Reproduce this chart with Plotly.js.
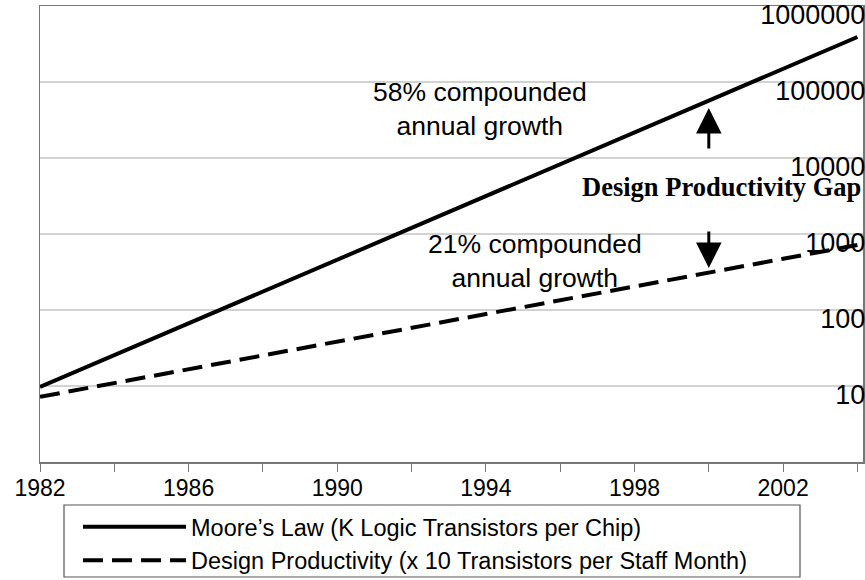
<!DOCTYPE html>
<html><head><meta charset="utf-8">
<script src="https://cdn.plot.ly/plotly-3.0.1.min.js"></script>
<style>html,body{margin:0;padding:0;background:#fff}#chart{width:865px;height:580px}</style>
</head><body><div id="chart"></div>
<script>
const years = [1982, 1986, 1990, 1994, 1998, 2002, 2004];
const mooresLaw = [9.7, 66.6, 459, 3150, 21700, 149000, 391000];
const designProductivity = [7.2, 16.5, 38.3, 88.3, 204, 472, 717];
const seriesNames = ["Moore’s Law (K Logic Transistors per Chip)", "Design Productivity (x 10 Transistors per Staff Month)"];
const yTickValues = [10, 100, 1000, 10000, 100000, 1000000];
const yTickLabels = ["10", "100", "1000", "10000", "100000", "1000000"];
const growthLabels = ["58% compounded<br>annual growth", "21% compounded<br>annual growth"];
const gapLabel = "Design Productivity Gap";
const gapYear = 2000;

const sans = "Liberation Sans, Arial, sans-serif";
const serif = "Liberation Serif, Times New Roman, serif";

const traces = [
  {x: years, y: mooresLaw, name: seriesNames[0], mode: "lines", type: "scatter",
   line: {color: "#000", width: 4}},
  {x: years, y: designProductivity, name: seriesNames[1], mode: "lines", type: "scatter",
   line: {color: "#000", width: 4, dash: "20px,9px"}}
];

const layout = {
  width: 865, height: 580,
  margin: {l: 40, r: 2, t: 6, b: 118, autoexpand: false},
  paper_bgcolor: "#fff", plot_bgcolor: "#fff",
  showlegend: true,
  legend: {x: (78 - 40) / 823, y: (462 - 505) / 456,
    xanchor: "left", yanchor: "top", orientation: "v",
    font: {family: sans, size: 23.5, color: "#000"}, borderwidth: 0,
    bgcolor: "rgba(0,0,0,0)", itemwidth: 103, tracegroupgap: 0},
  shapes: [
    {type: "rect", xref: "paper", yref: "paper", x0: (64 - 40) / 823, x1: (800 - 40) / 823,
     y0: (462 - 505) / 456, y1: (462 - 577) / 456, line: {color: "#555", width: 1.2}, fillcolor: "rgba(0,0,0,0)"}
  ],
  xaxis: {type: "linear", range: [1982, 2004.15], tick0: 1982, dtick: 4,
    ticks: "outside", ticklen: 8, tickwidth: 1, tickcolor: "#777", ticklabelstandoff: -3,
    minor: {tick0: 1982, dtick: 2, ticks: "outside", ticklen: 8, tickwidth: 1, tickcolor: "#777", showgrid: false},
    showgrid: false, zeroline: false, showline: true, mirror: true, linecolor: "#777", linewidth: 1.5,
    tickfont: {family: sans, size: 23, color: "#000"}},
  yaxis: {type: "log", range: [0, 6], side: "right", tickvals: yTickValues, ticktext: yTickLabels,
    ticks: "", ticklabelposition: "inside", ticklabelshift: 9, ticklabeloverflow: "allow",
    showgrid: true, gridcolor: "#d2d2d2", gridwidth: 1.2, zeroline: false,
    showline: true, mirror: true, linecolor: "#777", linewidth: 1.5,
    tickfont: {family: sans, size: 27, color: "#000"}},
  annotations: [
    {x: 1993.83, y: 4.645, xref: "x", yref: "y", text: growthLabels[0], showarrow: false,
     font: {family: sans, size: 26.5, color: "#000"}, align: "center"},
    {x: 1995.31, y: 2.645, xref: "x", yref: "y", text: growthLabels[1], showarrow: false,
     font: {family: sans, size: 26.5, color: "#000"}, align: "center"},
    {x: 1, y: 0.604, xref: "paper", yref: "paper", xanchor: "right", yanchor: "middle", text: "<b>" + gapLabel + "</b>",
     showarrow: false, font: {family: serif, size: 26.5, color: "#000"}},
    {x: gapYear, y: 4.658, xref: "x", yref: "y", text: "", showarrow: true, ax: 0, ay: 42,
     arrowhead: 2, arrowsize: 1.7, arrowwidth: 3, arrowcolor: "#000"},
    {x: gapYear, y: 2.553, xref: "x", yref: "y", text: "", showarrow: true, ax: 0, ay: -38,
     arrowhead: 2, arrowsize: 1.7, arrowwidth: 3, arrowcolor: "#000"}
  ]
};

Plotly.newPlot("chart", traces, layout, {displayModeBar: false, staticPlot: true});
</script></body></html>
